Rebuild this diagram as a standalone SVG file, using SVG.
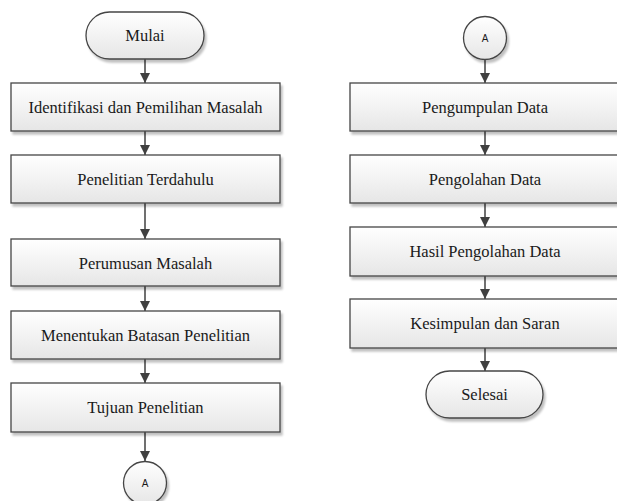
<svg xmlns="http://www.w3.org/2000/svg" width="617" height="501" viewBox="0 0 617 501">
<defs>
<linearGradient id="g" x1="0" y1="0" x2="0" y2="1">
<stop offset="0" stop-color="#ffffff"/>
<stop offset="1" stop-color="#e6e6e6"/>
</linearGradient>
<filter id="sh" x="-10%" y="-10%" width="130%" height="140%">
<feGaussianBlur in="SourceAlpha" stdDeviation="1.2"/>
<feOffset dx="2" dy="2.5" result="o"/>
<feComponentTransfer><feFuncA type="linear" slope="0.25"/></feComponentTransfer>
<feMerge><feMergeNode/><feMergeNode in="SourceGraphic"/></feMerge>
</filter>
<marker id="ah" viewBox="0 0 10 10" refX="10" refY="5" markerWidth="10" markerHeight="10" markerUnits="userSpaceOnUse" orient="auto">
<path d="M0,0 L10,5 L0,10 z" fill="#404040"/>
</marker>
</defs>
<style>
.n{fill:url(#g);stroke:#454545;stroke-width:1.3;filter:url(#sh)}
.t{font-family:"Liberation Serif","Times New Roman",serif;font-size:16.5px;fill:#1a1a1a;text-anchor:middle;dominant-baseline:central}
.a{font-family:"Liberation Sans",Arial,sans-serif;font-size:10px;fill:#1a1a1a;text-anchor:middle;dominant-baseline:central}
.c{stroke:#404040;stroke-width:1.5;fill:none;marker-end:url(#ah)}
</style>
<rect width="617" height="501" fill="#ffffff"/>
<g id="connectors">
<line class="c" x1="145" y1="59" x2="145" y2="83"/>
<line class="c" x1="145" y1="131" x2="145" y2="155"/>
<line class="c" x1="145" y1="203" x2="145" y2="239"/>
<line class="c" x1="145" y1="286" x2="145" y2="311"/>
<line class="c" x1="145" y1="359" x2="145" y2="383"/>
<line class="c" x1="145" y1="432" x2="145" y2="461"/>
<line class="c" x1="485" y1="59" x2="485" y2="83"/>
<line class="c" x1="485" y1="131" x2="485" y2="155"/>
<line class="c" x1="485" y1="203" x2="485" y2="227"/>
<line class="c" x1="485" y1="276" x2="485" y2="299"/>
<line class="c" x1="485" y1="348" x2="485" y2="371"/>
</g>
<g id="mulai"><rect class="n" x="86" y="12" width="118" height="47" rx="23.5"/><text class="t" x="145" y="35.5">Mulai</text></g>
<g id="identifikasi"><rect class="n" x="11" y="83" width="269" height="48"/><text class="t" x="145.5" y="107">Identifikasi dan Pemilihan Masalah</text></g>
<g id="penelitian-terdahulu"><rect class="n" x="11" y="155" width="269" height="48"/><text class="t" x="145.5" y="179">Penelitian Terdahulu</text></g>
<g id="perumusan"><rect class="n" x="11" y="239" width="269" height="47"/><text class="t" x="145.5" y="263">Perumusan Masalah</text></g>
<g id="batasan"><rect class="n" x="11" y="311" width="269" height="48"/><text class="t" x="145.5" y="335">Menentukan Batasan Penelitian</text></g>
<g id="tujuan"><rect class="n" x="11" y="383" width="269" height="49"/><text class="t" x="145.5" y="407">Tujuan Penelitian</text></g>
<g id="conn-a-left"><circle class="n" cx="145" cy="483" r="21.5"/><text class="a" x="145" y="483">A</text></g>
<g id="conn-a-right"><circle class="n" cx="485" cy="38" r="21.5"/><text class="a" x="485" y="38">A</text></g>
<g id="pengumpulan"><rect class="n" x="350" y="83" width="270" height="48"/><text class="t" x="485" y="107">Pengumpulan Data</text></g>
<g id="pengolahan"><rect class="n" x="350" y="155" width="270" height="48"/><text class="t" x="485" y="179">Pengolahan Data</text></g>
<g id="hasil"><rect class="n" x="350" y="227" width="270" height="49"/><text class="t" x="485" y="251">Hasil Pengolahan Data</text></g>
<g id="kesimpulan"><rect class="n" x="350" y="299" width="270" height="49"/><text class="t" x="485" y="323">Kesimpulan dan Saran</text></g>
<g id="selesai"><rect class="n" x="426" y="371" width="117" height="47" rx="23.5"/><text class="t" x="484.5" y="394.5">Selesai</text></g>
</svg>
